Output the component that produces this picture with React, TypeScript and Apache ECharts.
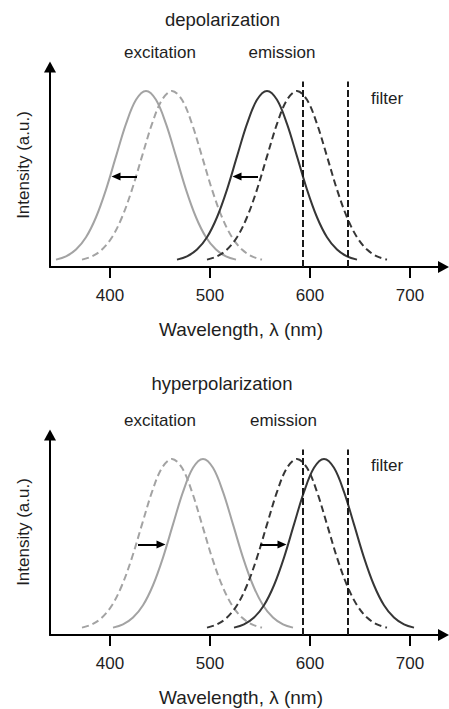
import React, { useEffect, useRef } from "react";
import * as echarts from "echarts";

// ---- data ----
const tickValues = [400, 500, 600, 700];

// depolarization panel
const depolExcitationSolid: [number, number][] = [
  [346, 0.013], [356, 0.032], [366, 0.072], [376, 0.144], [386, 0.261], [396, 0.423], [406, 0.617], [416, 0.807], [426, 0.948],
  [436, 1], [446, 0.948], [456, 0.807], [466, 0.617], [476, 0.423], [486, 0.261], [496, 0.144], [506, 0.072], [516, 0.032], [526, 0.013],
];
const excitationDashed: [number, number][] = [
  [372, 0.013], [382, 0.032], [392, 0.072], [402, 0.144], [412, 0.261], [422, 0.423], [432, 0.617], [442, 0.807], [452, 0.948],
  [462, 1], [472, 0.948], [482, 0.807], [492, 0.617], [502, 0.423], [512, 0.261], [522, 0.144], [532, 0.072], [542, 0.032], [552, 0.013],
];
const depolEmissionSolid: [number, number][] = [
  [467, 0.013], [477, 0.032], [487, 0.072], [497, 0.144], [507, 0.261], [517, 0.423], [527, 0.617], [537, 0.807], [547, 0.948],
  [557, 1], [567, 0.948], [577, 0.807], [587, 0.617], [597, 0.423], [607, 0.261], [617, 0.144], [627, 0.072], [637, 0.032], [647, 0.013],
];
const emissionDashed: [number, number][] = [
  [497, 0.013], [507, 0.032], [517, 0.072], [527, 0.144], [537, 0.261], [547, 0.423], [557, 0.617], [567, 0.807], [577, 0.948],
  [587, 1], [597, 0.948], [607, 0.807], [617, 0.617], [627, 0.423], [637, 0.261], [647, 0.144], [657, 0.072], [667, 0.032], [677, 0.013],
];
// hyperpolarization panel
const hyperExcitationSolid: [number, number][] = [
  [403, 0.013], [413, 0.032], [423, 0.072], [433, 0.144], [443, 0.261], [453, 0.423], [463, 0.617], [473, 0.807], [483, 0.948],
  [493, 1], [503, 0.948], [513, 0.807], [523, 0.617], [533, 0.423], [543, 0.261], [553, 0.144], [563, 0.072], [573, 0.032], [583, 0.013],
];
const hyperEmissionSolid: [number, number][] = [
  [524, 0.013], [534, 0.032], [544, 0.072], [554, 0.144], [564, 0.261], [574, 0.423], [584, 0.617], [594, 0.807], [604, 0.948],
  [614, 1], [624, 0.948], [634, 0.807], [644, 0.617], [654, 0.423], [664, 0.261], [674, 0.144], [684, 0.072], [694, 0.032], [704, 0.013],
];

const filterEdges = [593, 638];
const filterTop = 1.055;
const arrowLevel = 0.5;
// [from, to] wavelengths of the shift arrows
const depolArrows: [number, number][] = [[427, 406], [548, 527]];
const hyperArrows: [number, number][] = [[428, 451], [550, 572]];

const FONT = '"Liberation Sans", Arial, Helvetica, sans-serif';
const LIGHT = "#a3a3a3";
const DARK = "#363636";
const TEXT = "#1e1e1e";

export default function App() {
  const ref = useRef<HTMLDivElement>(null);
  useEffect(() => {
    if (!ref.current) return;
    const chart = echarts.init(ref.current, null, { renderer: "svg" });

    const X_MIN = 340;
    const X_MAX = 733.5;
    const Y_MIN = -0.03;
    const Y_MAX = 1.14;

    const xAxis = (gridIndex: number) => ({
      type: "value",
      gridIndex,
      min: X_MIN,
      max: X_MAX,
      splitLine: { show: false },
      axisLine: {
        show: true,
        onZero: false,
        symbol: ["none", "triangle"],
        symbolSize: [12, 11],
        lineStyle: { color: "#000", width: 2 },
      },
      axisTick: {
        show: true,
        customValues: tickValues,
        length: 11,
        lineStyle: { color: "#000", width: 2 },
      },
      axisLabel: {
        show: true,
        customValues: tickValues,
        margin: 20,
        fontSize: 17,
        fontFamily: FONT,
        color: TEXT,
      },
    });
    const yAxis = (gridIndex: number) => ({
      type: "value",
      gridIndex,
      min: Y_MIN,
      max: Y_MAX,
      splitLine: { show: false },
      axisLine: {
        show: true,
        onZero: false,
        symbol: ["none", "triangle"],
        symbolSize: [12, 11],
        lineStyle: { color: "#000", width: 2 },
      },
      axisTick: { show: false },
      axisLabel: { show: false },
    });

    const curve = (data: [number, number][], idx: number, color: string, dashed: boolean) => ({
      type: "line",
      xAxisIndex: idx,
      yAxisIndex: idx,
      data,
      smooth: 0.35,
      showSymbol: false,
      symbol: "none",
      silent: true,
      z: 2,
      lineStyle: { color, width: 2, type: dashed ? [7, 4] : "solid" },
    });

    const filters = (idx: number) =>
      filterEdges.map((f) => ({
        type: "line",
        xAxisIndex: idx,
        yAxisIndex: idx,
        data: [[f, Y_MIN], [f, filterTop]],
        showSymbol: false,
        symbol: "none",
        silent: true,
        z: 3,
        lineStyle: { color: "#1a1a1a", width: 2, type: [7, 3] },
      }));

    const arrows = (idx: number, arr: [number, number][]) => ({
      type: "line",
      xAxisIndex: idx,
      yAxisIndex: idx,
      data: [[arr[0][0], arrowLevel]],
      showSymbol: false,
      symbol: "none",
      silent: true,
      z: 4,
      markLine: {
        silent: true,
        symbol: ["none", "triangle"],
        symbolSize: [8, 9],
        label: { show: false },
        lineStyle: { color: "#000", width: 2, type: "solid" },
        animation: false,
        data: arr.map(([a, b]) => [{ coord: [a, arrowLevel] }, { coord: [b, arrowLevel] }]),
      },
    });

    const txt = (text: string, x: number, y: number, size: number, rotation = 0) => ({
      type: "text",
      x,
      y,
      rotation,
      silent: true,
      style: {
        text,
        fontSize: size,
        fontFamily: FONT,
        fill: TEXT,
        align: "center",
        verticalAlign: "middle",
      },
    });

    chart.setOption({
      animation: false,
      backgroundColor: "#fff",
      grid: [
        { left: 50, top: 67, width: X_MAX - X_MIN, height: 200 },
        { left: 50, top: 435, width: X_MAX - X_MIN, height: 200 },
      ],
      xAxis: [xAxis(0), xAxis(1)],
      yAxis: [yAxis(0), yAxis(1)],
      series: [
        curve(depolExcitationSolid, 0, LIGHT, false),
        curve(excitationDashed, 0, LIGHT, true),
        curve(depolEmissionSolid, 0, DARK, false),
        curve(emissionDashed, 0, DARK, true),
        ...filters(0),
        arrows(0, depolArrows),
        curve(excitationDashed, 1, LIGHT, true),
        curve(hyperExcitationSolid, 1, LIGHT, false),
        curve(emissionDashed, 1, DARK, true),
        curve(hyperEmissionSolid, 1, DARK, false),
        ...filters(1),
        arrows(1, hyperArrows),
      ],
      graphic: [
        txt("depolarization", 222.5, 19, 18.5),
        txt("excitation", 160, 52.5, 17),
        txt("emission", 282, 52.5, 17),
        txt("filter", 387, 98.5, 17),
        txt("Intensity (a.u.)", 23.5, 165, 17, Math.PI / 2),
        txt("Wavelength, λ (nm)", 241, 329, 19),
        txt("hyperpolarization", 222, 383.5, 18.5),
        txt("excitation", 160, 420, 17),
        txt("emission", 283.5, 420, 17),
        txt("filter", 387, 465, 17),
        txt("Intensity (a.u.)", 23.5, 532, 17, Math.PI / 2),
        txt("Wavelength, λ (nm)", 241, 697, 19),
      ],
    });
    return () => chart.dispose();
  }, []);
  return (
    <div
      ref={ref}
      style={{ position: "absolute", left: 0, top: 0, width: 449, height: 709 }}
    />
  );
}
